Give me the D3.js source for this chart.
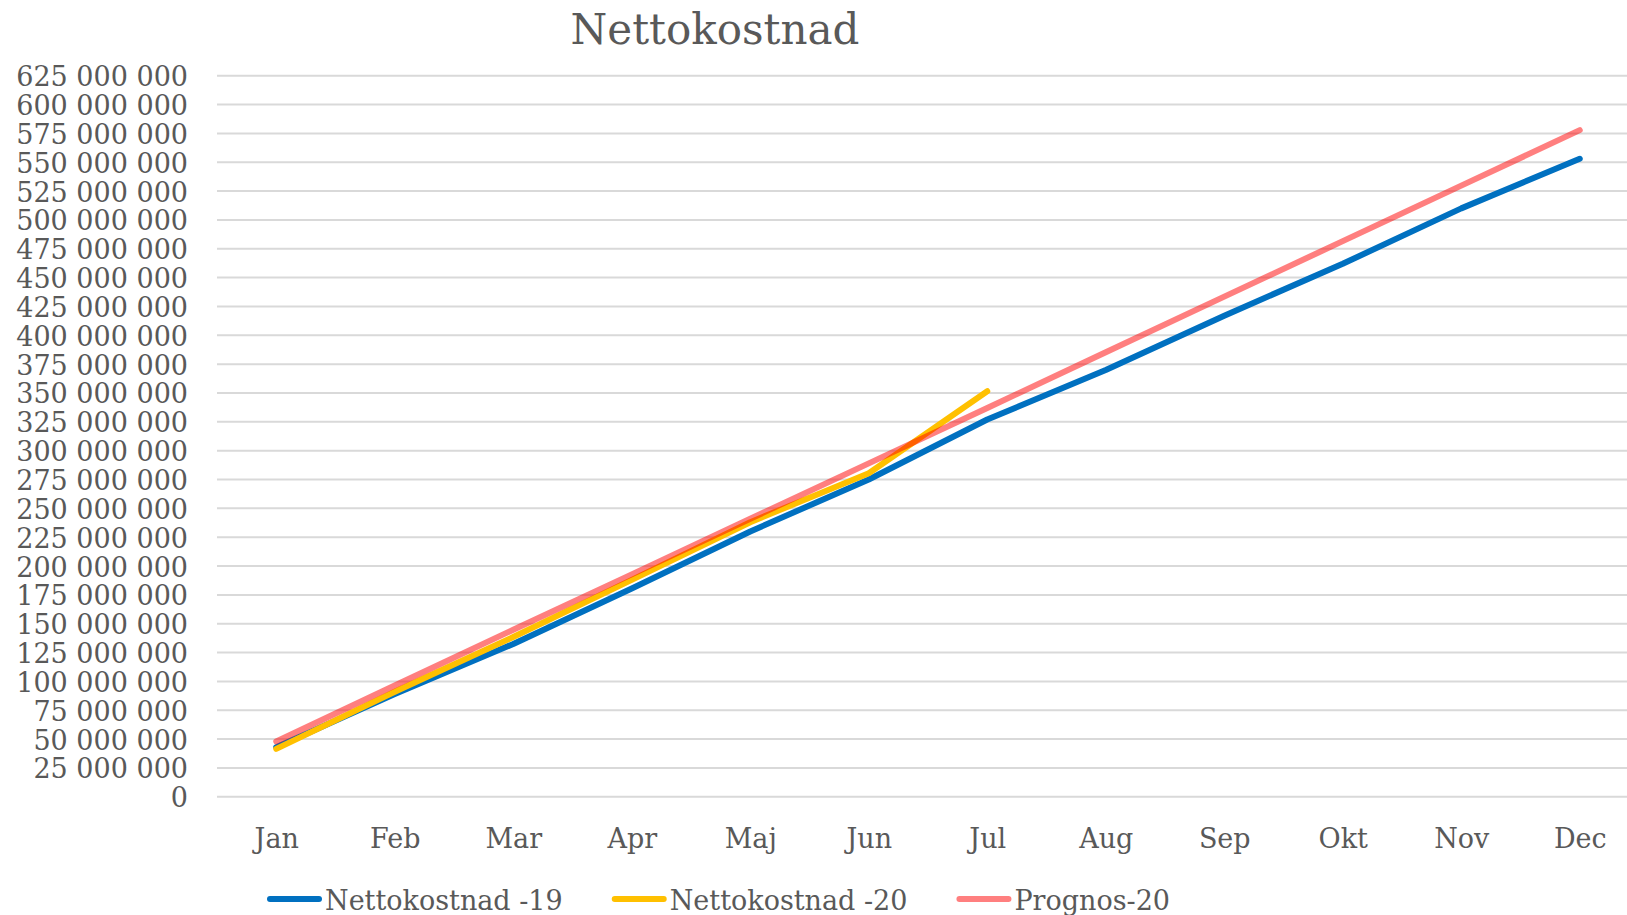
<!DOCTYPE html>
<html>
<head>
<meta charset="utf-8">
<script src="https://cdn.jsdelivr.net/npm/d3@7"></script>
<style>
  html, body { margin: 0; padding: 0; background: #fff; overflow: hidden; }
  svg { display: block; }
  text { font-family: "DejaVu Serif", serif; fill: #595959; }
</style>
</head>
<body>
<svg id="chart" width="1627" height="915"></svg>
<script>
const months = ["Jan","Feb","Mar","Apr","Maj","Jun","Jul","Aug","Sep","Okt","Nov","Dec"];
const netto19 = [43000000, 89000000, 132500000, 180500000, 230000000, 275000000, 327000000, 370000000, 417000000, 462000000, 510000000, 553000000];
const netto20 = [41500000, 91000000, 138500000, 188000000, 238000000, 280500000, 351500000];
const prognos20 = [48000000, 96500000, 144800000, 192800000, 241000000, 289000000, 337000000, 385300000, 433500000, 481600000, 529700000, 577800000];
const yTicks = [0,25000000,50000000,75000000,100000000,125000000,150000000,175000000,200000000,225000000,250000000,275000000,300000000,325000000,350000000,375000000,400000000,425000000,450000000,475000000,500000000,525000000,550000000,575000000,600000000,625000000];
const seriesNames = ["Nettokostnad -19", "Nettokostnad -20", "Prognos-20"];
const title = "Nettokostnad";

const svg = d3.select("#chart");
const plotLeft = 217, plotRight = 1639, plotTop = 75.7, plotBottom = 796.8;

const x = d3.scalePoint().domain(months).range([plotLeft, plotRight]).padding(0.5);
const y = d3.scaleLinear().domain([0, 625000000]).range([plotBottom, plotTop]);

const fmt = v => v === 0 ? "0" : d3.format(",")(v).replace(/,/g, " ");

// gridlines
svg.append("g").selectAll("line").data(yTicks).join("line")
  .attr("x1", plotLeft).attr("x2", 1627)
  .attr("y1", d => y(d)).attr("y2", d => y(d))
  .attr("stroke", "#d9d9d9").attr("stroke-width", 2);

// y axis
const yAxis = d3.axisLeft(y).tickValues(yTicks).tickFormat(fmt).tickSize(0).tickPadding(0);
const gy = svg.append("g").attr("transform", "translate(188,0)").call(yAxis);
gy.select(".domain").remove();
gy.selectAll("text").attr("font-size", 27).attr("font-family", "DejaVu Serif").attr("fill", "#595959").attr("dy", "0.37em");

// x axis
const xAxis = d3.axisBottom(x).tickSize(0).tickPadding(0);
const gx = svg.append("g").attr("transform", "translate(0,848)").call(xAxis);
gx.select(".domain").remove();
gx.selectAll("text").attr("font-size", 27).attr("font-family", "DejaVu Serif").attr("fill", "#595959").attr("dy", 0);

// lines
const line = d3.line().x((d, i) => x(months[i])).y(d => y(d));
const styles = [
  { data: netto19, color: "#0070c0", opacity: 1 },
  { data: netto20, color: "#ffc000", opacity: 1 },
  { data: prognos20, color: "#ff0000", opacity: 0.5 }
];
styles.forEach(s => {
  svg.append("path").datum(s.data)
    .attr("d", line)
    .attr("fill", "none")
    .attr("stroke", s.color)
    .attr("stroke-opacity", s.opacity)
    .attr("stroke-width", 6)
    .attr("stroke-linecap", "round")
    .attr("stroke-linejoin", "round");
});

// title
svg.append("text").attr("x", 715).attr("y", 44)
  .attr("text-anchor", "middle").attr("font-size", 42).text(title);

// legend
const lg = svg.append("g");
let cx = 267;
styles.forEach((s, i) => {
  const g = lg.append("g");
  g.append("line").attr("x1", cx + 3).attr("x2", cx + 52).attr("y1", 899).attr("y2", 899)
    .attr("stroke", s.color).attr("stroke-opacity", s.opacity)
    .attr("stroke-width", 6).attr("stroke-linecap", "round");
  const t = g.append("text").attr("x", cx + 58).attr("y", 910).attr("font-size", 27).text(seriesNames[i]);
  cx = cx + 58 + t.node().getComputedTextLength() + 49;
});
</script>
</body>
</html>
